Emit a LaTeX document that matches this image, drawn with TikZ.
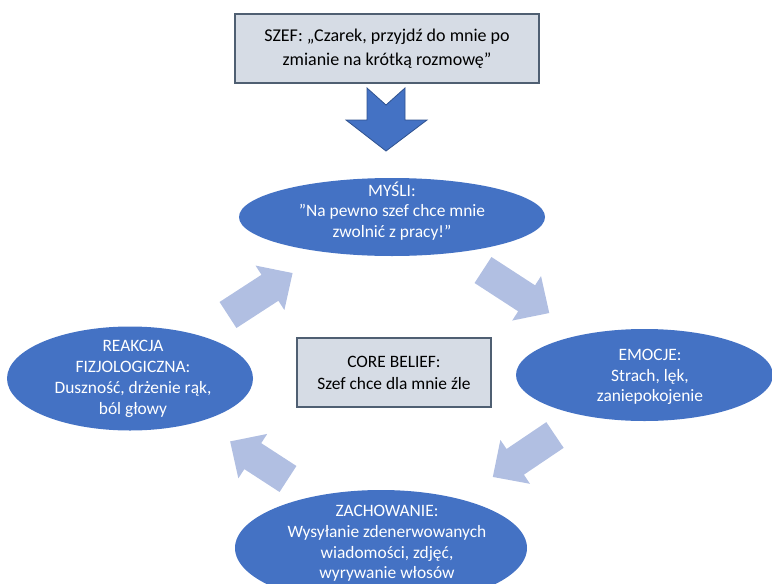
\documentclass[tikz,border=0pt]{standalone}
\usepackage{fontspec}
\setmainfont{Carlito}
\usetikzlibrary{shapes.geometric}

\definecolor{bubblefill}{HTML}{4472C4}
\definecolor{bubbleedge}{HTML}{2F528F}
\definecolor{cyclearrow}{HTML}{B1BFE2}
\definecolor{notefill}{HTML}{D6DCE5}
\definecolor{noteedge}{HTML}{4F5F72}

\tikzset{
  bubble/.style={ellipse, fill=bubblefill, draw=none, inner sep=0pt},
  bubbletext/.style={text=white, align=center, font=\fontsize{17.4}{20.8}\selectfont},
  notebox/.style={rectangle, fill=notefill, draw=noteedge, inner sep=0pt},
  notetext/.style={text=black, align=center},
  % block arrow along +x: tail centre at origin, length given as argument
  pics/fatarrow/.style={code={
    \fill[cyclearrow] (0,-15.5) -- ({#1-27},-15.5) -- ({#1-27},-26.5) -- (#1,0)
      -- ({#1-27},26.5) -- ({#1-27},15.5) -- (0,15.5) -- cycle;
  }}
}

\begin{document}
\begin{tikzpicture}[x=1pt, y=-1pt]
  \path[use as bounding box] (0,0) rectangle (772,584);

  % trigger situation
  \node[notebox, line width=2pt, minimum width=304pt, minimum height=69pt] (trigger) at (387,48.5) {};
  \node[notetext, font=\fontsize{18}{24.5}\selectfont] at (trigger) {SZEF: „Czarek, przyjdź do mnie po\\zmianie na krótką rozmowę”};

  % notched arrow into the cycle
  \filldraw[fill=bubblefill, draw=bubbleedge, line width=0.8pt]
    (367,88) -- (386,105) -- (405,88) -- (405,120) -- (427,120) -- (386,151)
    -- (346,120) -- (367,120) -- cycle;

  % the four stages
  \node[bubble, minimum width=306pt, minimum height=78pt] (thoughts) at (392,217) {};
  \node[bubbletext] at (392,211) {MYŚLI:\\\symbol{34}Na pewno szef chce mnie\\zwolnić z pracy!\symbol{34}};

  \node[bubble, minimum width=257pt, minimum height=92pt] (emotions) at (644.5,375) {};
  \node[bubbletext] at (650,377) {EMOCJE:\\Strach, lęk,\\zaniepokojenie};

  \node[bubble, minimum width=246pt, minimum height=104pt] (body) at (130,378.5) {};
  \node[bubbletext] at (133,379) {REAKCJA\\FIZJOLOGICZNA:\\Duszność, drżenie rąk,\\ból głowy};

  \node[bubble, minimum width=292pt, minimum height=116pt] (behaviour) at (381,548) {};
  \node[bubbletext] at (387,543.5) {ZACHOWANIE:\\Wysyłanie zdenerwowanych\\wiadomości, zdjęć,\\wyrywanie włosów};

  % core belief in the middle
  \node[notebox, line width=1.5pt, minimum width=194pt, minimum height=69pt] (core) at (394,372.5) {};
  \node[notetext, font=\fontsize{17.4}{22}\selectfont] at (core) {CORE BELIEF:\\Szef chce dla mnie źle};

  % cycle arrows
  \pic[rotate=33]  at (228,315) {fatarrow=77};
  \pic[rotate=-33] at (483,270) {fatarrow=79};
  \pic[rotate=214] at (555,435) {fatarrow=75};
  \pic[rotate=147] at (288,479) {fatarrow=69};
\end{tikzpicture}
\end{document}
